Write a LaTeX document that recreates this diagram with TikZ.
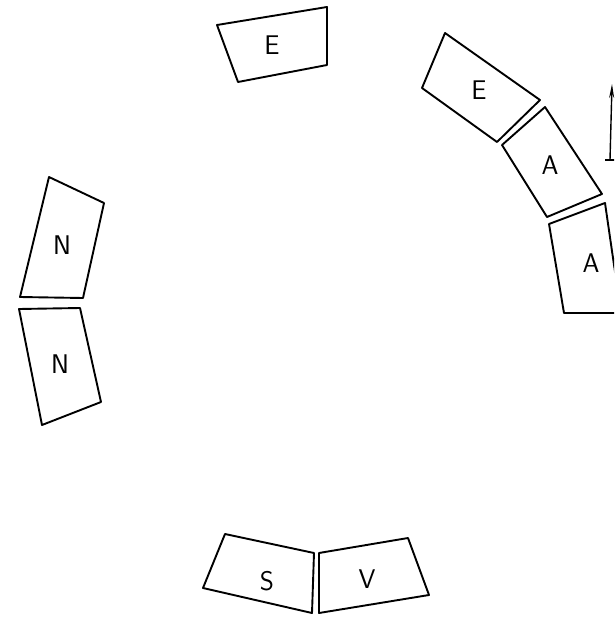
\documentclass[tikz,border=0pt]{standalone}
\usepackage{tikz}
\usetikzlibrary{arrows.meta}

\tikzset{
  sector/.style={line width=1.9pt, line join=round},
  letter/.style={font=\sffamily\fontsize{27}{31}\selectfont}
}

\begin{document}
\begin{tikzpicture}[x=1pt, y=-1pt]
        \useasboundingbox (0,0) rectangle (614,618);
        \clip (0,0) rectangle (614,618);

        % Setor superior
        \draw[sector] (217,25) -- (327,7) -- (327,65) -- (238,82) -- cycle;
        \node[letter] (e1) at (272,45) {E};

        % Setores da direita
        \draw[sector] (445,33) -- (540,100) -- (497,142) -- (422,88) -- cycle;
        \node[letter] (e2) at (479,90) {E};

        \draw[sector] (545,107) -- (602,194) -- (547,217) -- (502,145) -- cycle;
        \node[letter] (a1) at (550,165) {A};

        \draw[sector] (549,224) -- (605,203) -- (621,313) -- (564,313) -- cycle;
        \node[letter] (a2) at (591,263) {A};

        % Seta vertical
        \coordinate (pbase) at (610,160);
        \coordinate (ptopo) at (612,84);
        \draw[line width=1.4pt, -{Stealth[length=14pt, width=5pt]}] (pbase) -- (ptopo);
        \draw[line width=1.4pt] ([xshift=-5pt]pbase) -- ([xshift=5pt]pbase);

        % Setores da esquerda
        \draw[sector] (49,177) -- (104,203) -- (83,298) -- (20,297) -- cycle;
        \node[letter] (n1) at (62,245) {N};

        \draw[sector] (19,309) -- (80,308) -- (101,402) -- (42,425) -- cycle;
        \node[letter] (n2) at (60,364) {N};

        % Setores inferiores
        \draw[sector] (225,534) -- (314,553) -- (312,613) -- (203,588) -- cycle;
        \node[letter] (s) at (267,581) {S};

        \draw[sector] (319,553) -- (408,538) -- (429,595) -- (319,613) -- cycle;
        \node[letter] (v) at (367,579) {V};
    \end{tikzpicture}
\end{document}
